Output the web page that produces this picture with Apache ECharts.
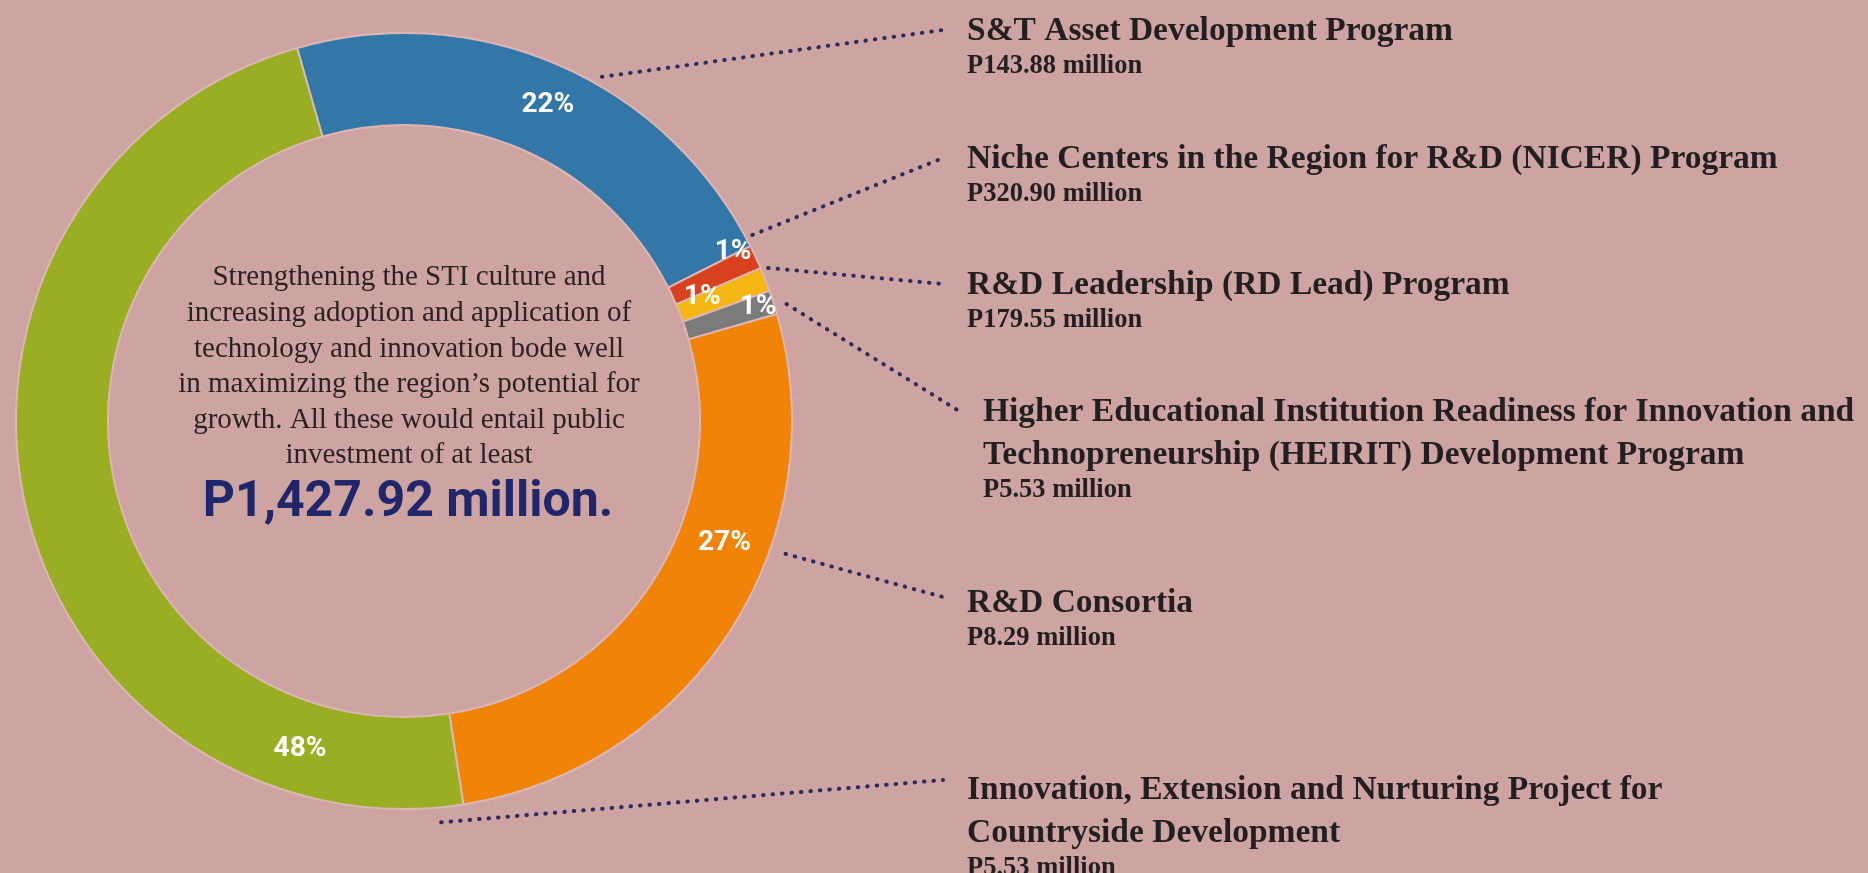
<!DOCTYPE html>
<html>
<head>
<meta charset="utf-8">
<title>STI public investment</title>
<script src="https://cdn.jsdelivr.net/npm/echarts@6/dist/echarts.min.js"></script>
<style>
    html, body { margin: 0; padding: 0; background: #cea4a2; }
    #chart { width: 1868px; height: 873px; }
</style>
</head>
<body>
<div id="chart"></div>
<script>
    // ---- data ----
    var programs = [
        ['S&T Asset Development Program'],
        ['Niche Centers in the Region for R&D (NICER) Program'],
        ['R&D Leadership (RD Lead) Program'],
        ['Higher Educational Institution Readiness for Innovation and', 'Technopreneurship (HEIRIT) Development Program'],
        ['R&D Consortia'],
        ['Innovation, Extension and Nurturing Project for', 'Countryside Development']
    ];
    var amounts = ['P143.88 million', 'P320.90 million', 'P179.55 million', 'P5.53 million', 'P8.29 million', 'P5.53 million'];
    var shares = [22, 1, 1, 1, 27, 48];
    var blurb = [
        'Strengthening the STI culture and',
        'increasing adoption and application of',
        'technology and innovation bode well',
        'in maximizing the region\u2019s potential for',
        'growth. All these would entail public',
        'investment of at least'
    ];
    var totalLabel = 'P1,427.92 million.';

    // ---- layout ----
    var CX = 404, CY = 421, R0 = 296, R1 = 388;
    var colors = ['#3277a7', '#d8411d', '#f6b712', '#7b7b7b', '#f08308', '#9aae24'];
    // % label spots: [degrees clockwise from 12 o'clock, radius]
    var pctSpots = [[24.5, 347], [62.8, 370], [67.4, 323], [72.2, 372], [110.9, 343], [197.6, 344]];
    // where each dotted leader leaves the ring
    var leaderFrom = [[29.9, 397], [61.9, 395], [67.2, 395], [73, 400], [109.2, 404], [174.7, 403]];
    // top-left of each text block on the right, and a small nudge for the leader end
    var textAt = [[967, 10], [967, 138], [967, 264], [983, 391], [967, 582], [967, 769]];
    var leaderEndDy = [-1, -1, -1, -1, -6, -10];

    function polar(a, r) {
        var t = a * Math.PI / 180;
        return [CX + r * Math.sin(t), CY - r * Math.cos(t)];
    }

    var names = programs.map(function (p) { return p.join(' '); });

    var chart = echarts.init(document.getElementById('chart'));
    chart.setOption({
        backgroundColor: '#cea4a2',
        animation: false,
        series: [
            {
                type: 'pie',
                center: [CX, CY],
                radius: [R0, R1],
                startAngle: 106,
                silent: true,
                avoidLabelOverlap: false,
                itemStyle: { borderColor: '#dcb7b4', borderWidth: 2 },
                label: {
                    position: 'inside',
                    formatter: '{c}%',
                    color: '#ffffff',
                    fontFamily: 'Roboto',
                    fontWeight: 'bold',
                    fontSize: 28
                },
                labelLine: { show: false },
                labelLayout: function (p) {
                    var s = pctSpots[p.dataIndex];
                    var pt = polar(s[0], s[1]);
                    return { x: pt[0], y: pt[1], align: 'center', verticalAlign: 'middle' };
                },
                data: shares.map(function (v, i) {
                    return { value: v, name: names[i], itemStyle: { color: colors[i] } };
                })
            },
            {
                type: 'pie',
                center: [CX, CY],
                radius: [R0, R1],
                startAngle: 106,
                silent: true,
                avoidLabelOverlap: false,
                itemStyle: { color: 'transparent', borderWidth: 0 },
                label: {
                    position: 'outside',
                    color: '#231f20',
                    formatter: function (p) {
                        var i = p.dataIndex;
                        return programs[i].map(function (s) { return '{t|' + s + '}'; }).join('\n') +
                            '\n{a|' + amounts[i] + '}';
                    },
                    rich: {
                        t: { fontFamily: 'Liberation Serif', fontWeight: 'bold', fontSize: 33.5, lineHeight: 43, color: '#231f20' },
                        a: { fontFamily: 'Liberation Serif', fontWeight: 'bold', fontSize: 26.5, lineHeight: 26, color: '#231f20' }
                    }
                },
                labelLine: {
                    show: true,
                    lineStyle: { color: '#2d2a5c', width: 4, type: [0.5, 9], cap: 'round' }
                },
                labelLayout: function (p) {
                    var i = p.dataIndex;
                    var s = polar(leaderFrom[i][0], leaderFrom[i][1]);
                    var tx = textAt[i][0], ty = textAt[i][1];
                    var e = [tx - 24, ty + 21 + leaderEndDy[i]];
                    return {
                        x: tx, y: ty, align: 'left', verticalAlign: 'top',
                        labelLinePoints: [s, [(s[0] + e[0]) / 2, (s[1] + e[1]) / 2], e]
                    };
                },
                data: shares.map(function (v, i) {
                    return { value: v, name: names[i] };
                })
            }
        ],
        graphic: [
            {
                type: 'text',
                x: 409,
                y: 260,
                silent: true,
                style: {
                    text: blurb.join('\n'),
                    fontFamily: 'Liberation Serif',
                    fontSize: 29,
                    lineHeight: 35.6,
                    align: 'center',
                    verticalAlign: 'top',
                    fill: '#2a2223'
                }
            },
            {
                type: 'text',
                x: 408,
                y: 503,
                silent: true,
                style: {
                    text: totalLabel,
                    fontFamily: 'Roboto',
                    fontWeight: 'bold',
                    fontSize: 50,
                    align: 'center',
                    verticalAlign: 'middle',
                    fill: '#1f2669'
                }
            }
        ]
    });
</script>
</body>
</html>
